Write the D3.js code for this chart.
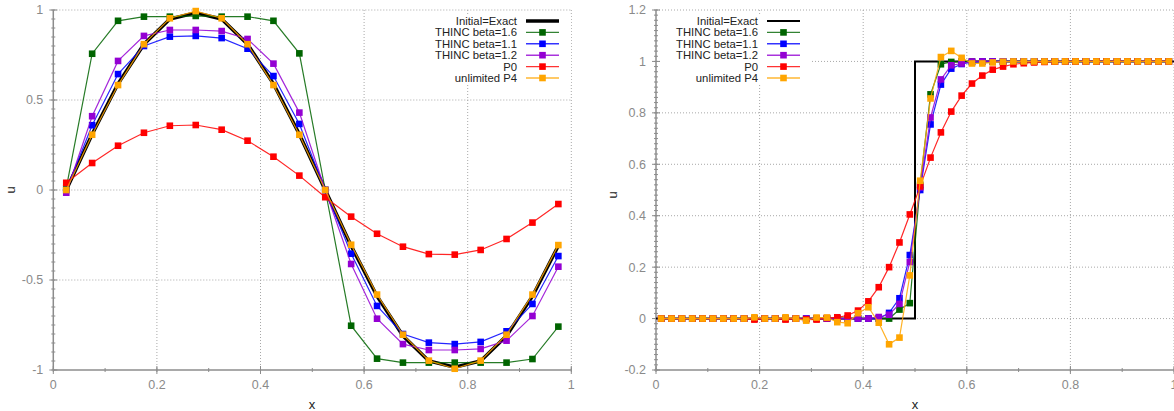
<!DOCTYPE html>
<html>
<head>
<meta charset="utf-8">
<script src="https://cdn.jsdelivr.net/npm/d3@7"></script>
<style>
  body { margin: 0; background: #fff; }
  svg { display: block; font-family: "Liberation Sans", Arial, sans-serif; }
</style>
</head>
<body>
<svg id="chart" width="1174" height="411"></svg>
<script>
// ---- data: left panel (sine wave, 20 cells) ----
var xLeft = [0.025, 0.075, 0.125, 0.175, 0.225, 0.275, 0.325, 0.375, 0.425, 0.475,
             0.525, 0.575, 0.625, 0.675, 0.725, 0.775, 0.825, 0.875, 0.925, 0.975];
var exactLeft  = [0, 0.31, 0.59, 0.81, 0.95, 0.985, 0.95, 0.81, 0.59, 0.31,
                  0, -0.31, -0.59, -0.81, -0.95, -0.985, -0.95, -0.81, -0.59, -0.31];
var thinc16Left = [0.01, 0.757, 0.94, 0.963, 0.963, 0.967, 0.963, 0.963, 0.94, 0.759,
                   0.0, -0.754, -0.937, -0.959, -0.959, -0.959, -0.959, -0.959, -0.939, -0.759];
var thinc11Left = [0.0, 0.36, 0.644, 0.8, 0.852, 0.856, 0.844, 0.785, 0.633, 0.367,
                   0.0, -0.354, -0.644, -0.8, -0.848, -0.856, -0.844, -0.785, -0.633, -0.367];
var thinc12Left = [-0.015, 0.41, 0.717, 0.856, 0.889, 0.889, 0.883, 0.839, 0.702, 0.43,
                   0.0, -0.411, -0.715, -0.856, -0.889, -0.889, -0.883, -0.837, -0.7, -0.426];
var p0Left = [0.04, 0.15, 0.246, 0.318, 0.357, 0.361, 0.335, 0.274, 0.185, 0.08,
              -0.04, -0.148, -0.243, -0.315, -0.356, -0.359, -0.333, -0.272, -0.181, -0.078];
var p4Left = [0.0, 0.307, 0.583, 0.81, 0.954, 0.994, 0.954, 0.81, 0.583, 0.307,
              0.0, -0.304, -0.581, -0.804, -0.948, -0.993, -0.948, -0.804, -0.581, -0.306];

// ---- data: right panel (step, 50 cells) ----
var xRight = [0.01, 0.03, 0.05, 0.07, 0.09, 0.11, 0.13, 0.15, 0.17, 0.19,
              0.21, 0.23, 0.25, 0.27, 0.29, 0.31, 0.33, 0.35, 0.37, 0.39,
              0.41, 0.43, 0.45, 0.47, 0.49, 0.51, 0.53, 0.55, 0.57, 0.59,
              0.61, 0.63, 0.65, 0.67, 0.69, 0.71, 0.73, 0.75, 0.77, 0.79,
              0.81, 0.83, 0.85, 0.87, 0.89, 0.91, 0.93, 0.95, 0.97, 0.99];
var exactRightX = [0, 0.5, 0.5, 1];
var exactRightU = [0, 0, 1, 1];
var thinc16Right = [0, 0, 0, 0, 0, 0, 0, 0, 0, 0,
                    0, 0, 0, 0, 0, 0, 0, 0, 0, 0,
                    0, 0, 0, 0.035, 0.06, 0.52, 0.872, 0.989, 0.998, 1,
                    1, 1, 1, 1, 1, 1, 1, 1, 1, 1,
                    1, 1, 1, 1, 1, 1, 1, 1, 1, 1];
var thinc11Right = [0, 0, 0, 0, 0, 0, 0, 0, 0, 0,
                    0, 0, 0, 0, 0, 0, 0, 0, 0, 0,
                    0, 0, 0.022, 0.079, 0.247, 0.5, 0.755, 0.91, 0.972, 0.99,
                    0.997, 1, 1, 1, 1, 1, 1, 1, 1, 1,
                    1, 1, 1, 1, 1, 1, 1, 1, 1, 1];
var thinc12Right = [0, 0, 0, 0, 0, 0, 0, 0, 0, 0,
                    0, 0, 0, 0, 0, 0, 0, 0, 0, 0,
                    0, 0.006, 0.015, 0.057, 0.22, 0.51, 0.782, 0.93, 0.985, 0.992,
                    1, 1, 1, 1, 1, 1, 1, 1, 1, 1,
                    1, 1, 1, 1, 1, 1, 1, 1, 1, 1];
var p0Right = [0, 0, 0, 0, 0, 0, 0, 0, 0, -0.004,
               0, 0, -0.004, 0, -0.003, -0.004, 0.002, 0.005, 0.012, 0.031,
               0.067, 0.122, 0.2, 0.296, 0.405, 0.514, 0.626, 0.724, 0.805, 0.867,
               0.914, 0.945, 0.968, 0.98, 0.989, 0.993, 0.996, 0.998, 0.999, 1,
               1, 1, 1, 1, 1, 1, 1, 1, 1, 1];
var p4Right = [0, 0, 0, 0, 0, 0, 0, 0, 0, 0.005,
               0, 0, 0.005, 0, -0.008, 0.004, 0.004, -0.014, -0.018, 0.021,
               0.044, -0.016, -0.1, -0.074, 0.168, 0.536, 0.856, 1.017, 1.041, 1.014,
               0.992, 0.992, 0.996, 0.999, 1, 1, 1, 1, 1, 1,
               1, 1, 1, 1, 1, 1, 1, 1, 1, 1];

var seriesNames = ["THINC beta=1.6", "THINC beta=1.1", "THINC beta=1.2", "P0", "unlimited P4"];
var seriesColors = ["#006400", "#0000ff", "#9400d3", "#ff0000", "#ffa500"];
var xTickLabels = ["0", "0.2", "0.4", "0.6", "0.8", "1"];

var svg = d3.select("#chart");

function drawPanel(cfg) {
  var x = d3.scaleLinear().domain([0, 1]).range([cfg.left, cfg.left + 518]);
  var y = d3.scaleLinear().domain(cfg.yDomain).range([370, 10]);
  var g = svg.append("g");
  var grid = "#a8a8a8";

  // dotted grid (includes top and right border)
  g.selectAll(".vgrid").data(cfg.xTicks.filter(function (d) { return d > 0; }))
    .enter().append("line")
    .attr("x1", function (d) { return x(d); }).attr("x2", function (d) { return x(d); })
    .attr("y1", y(cfg.yDomain[1])).attr("y2", y(cfg.yDomain[0]))
    .style("stroke", grid).style("stroke-width", 1).style("stroke-dasharray", "1,2");
  g.selectAll(".hgrid").data(cfg.yTicks.filter(function (d) { return d > cfg.yDomain[0]; }))
    .enter().append("line")
    .attr("x1", x(0)).attr("x2", x(1))
    .attr("y1", function (d) { return y(d); }).attr("y2", function (d) { return y(d); })
    .style("stroke", grid).style("stroke-width", 1).style("stroke-dasharray", "1,2");

  // solid left and bottom axes
  g.append("line").attr("x1", x(0)).attr("x2", x(0)).attr("y1", y(cfg.yDomain[0])).attr("y2", y(cfg.yDomain[1]))
    .style("stroke", "#8c8c8c").style("stroke-width", 1.5);
  g.append("line").attr("x1", x(0)).attr("x2", x(1)).attr("y1", y(cfg.yDomain[0])).attr("y2", y(cfg.yDomain[0]))
    .style("stroke", "#8c8c8c").style("stroke-width", 1.5);

  // ticks
  g.selectAll(".ymin").data(cfg.yMinor).enter().append("line")
    .attr("x1", x(0) - 2).attr("x2", x(0) + 2)
    .attr("y1", function (d) { return y(d); }).attr("y2", function (d) { return y(d); })
    .style("stroke", "#8c8c8c");
  g.selectAll(".ymaj").data(cfg.yTicks).enter().append("line")
    .attr("x1", x(0) - 4).attr("x2", x(0) + 4)
    .attr("y1", function (d) { return y(d); }).attr("y2", function (d) { return y(d); })
    .style("stroke", "#8c8c8c");
  g.selectAll(".xmin").data(cfg.xMinor).enter().append("line")
    .attr("x1", function (d) { return x(d); }).attr("x2", function (d) { return x(d); })
    .attr("y1", 368).attr("y2", 372)
    .style("stroke", "#8c8c8c");
  g.selectAll(".xmaj").data(cfg.xTicks).enter().append("line")
    .attr("x1", function (d) { return x(d); }).attr("x2", function (d) { return x(d); })
    .attr("y1", 366).attr("y2", 374)
    .style("stroke", "#8c8c8c");

  // tick labels
  g.selectAll(".ylab").data(cfg.yTicks).enter().append("text")
    .attr("x", x(0) - 10).attr("y", function (d) { return y(d); })
    .attr("dy", "0.35em").attr("text-anchor", "end")
    .style("font-size", "12.5px").style("fill", "#8a8a8a")
    .text(function (d, i) { return cfg.yTickLabels[i]; });
  g.selectAll(".xlab").data(cfg.xTicks).enter().append("text")
    .attr("x", function (d) { return x(d); }).attr("y", 385)
    .attr("dy", "0.35em").attr("text-anchor", "middle")
    .style("font-size", "12.5px").style("fill", "#8a8a8a")
    .text(function (d, i) { return xTickLabels[i]; });

  // axis titles
  g.append("text").attr("x", cfg.xTitleX).attr("y", 404).attr("dy", "0.35em")
    .attr("text-anchor", "middle").style("font-size", "13px").style("fill", "#222").text("x");
  g.append("text").attr("transform", "translate(" + cfg.uTitleX + "," + cfg.uTitleY + ") rotate(-90)")
    .attr("dy", "0.35em").attr("text-anchor", "middle")
    .style("font-size", "13px").style("fill", "#222").text("u");

  // opaque legend box
  g.append("rect").attr("x", cfg.keyRight - 96).attr("y", 14).attr("width", 150).attr("height", 70)
    .style("fill", "#fff");

  // exact solution
  var line = d3.line().x(function (d) { return x(d[0]); }).y(function (d) { return y(d[1]); });
  g.append("path").datum(d3.zip(cfg.exactX, cfg.exactU)).attr("d", line)
    .style("fill", "none").style("stroke", "#000").style("stroke-width", cfg.exactWidth)
    .style("stroke-linejoin", "miter");

  // numerical series
  cfg.series.forEach(function (vals, k) {
    var pts = d3.zip(cfg.xs, vals);
    g.append("path").datum(pts).attr("d", line)
      .style("fill", "none").style("stroke", seriesColors[k]).style("stroke-width", 1.2)
      .style("stroke-opacity", 0.85);
    g.selectAll(".m" + k).data(pts).enter().append("rect")
      .attr("x", function (d) { return x(d[0]) - 3.3; })
      .attr("y", function (d) { return y(d[1]) - 3.3; })
      .attr("width", 6.6).attr("height", 6.6)
      .style("fill", seriesColors[k]);
  });

  // legend entries
  var rowY = function (i) { return 21 + i * 11.4; };
  var names = ["Initial=Exact"].concat(seriesNames);
  names.forEach(function (name, i) {
    g.append("text").attr("x", cfg.keyRight).attr("y", rowY(i)).attr("dy", "0.35em")
      .attr("text-anchor", "end").style("font-size", "11.3px").style("fill", "#222").text(name);
    var sx = cfg.keyRight + 9;
    if (i === 0) {
      g.append("line").attr("x1", sx).attr("x2", sx + 33).attr("y1", rowY(i)).attr("y2", rowY(i))
        .style("stroke", "#000").style("stroke-width", cfg.exactWidth);
    } else {
      g.append("line").attr("x1", sx).attr("x2", sx + 33).attr("y1", rowY(i)).attr("y2", rowY(i))
        .style("stroke", seriesColors[i - 1]).style("stroke-width", 1.4).style("stroke-opacity", 0.8);
      g.append("rect").attr("x", sx + 16.5 - 3.3).attr("y", rowY(i) - 3.3)
        .attr("width", 6.6).attr("height", 6.6).style("fill", seriesColors[i - 1]);
    }
  });
}

drawPanel({
  left: 53.3,
  yDomain: [-1, 1],
  yTicks: [-1, -0.5, 0, 0.5, 1],
  yTickLabels: ["-1", "-0.5", "0", "0.5", "1"],
  yMinor: d3.range(-1, 1.001, 0.05),
  xTicks: [0, 0.2, 0.4, 0.6, 0.8, 1],
  xMinor: d3.range(0, 1.001, 0.1),
  xs: xLeft,
  exactX: xLeft,
  exactU: exactLeft,
  exactWidth: 3.5,
  series: [thinc16Left, thinc11Left, thinc12Left, p0Left, p4Left],
  keyRight: 517,
  xTitleX: 312,
  uTitleX: 10,
  uTitleY: 190
});

drawPanel({
  left: 656,
  yDomain: [-0.2, 1.2],
  yTicks: [-0.2, 0, 0.2, 0.4, 0.6, 0.8, 1, 1.2],
  yTickLabels: ["-0.2", "0", "0.2", "0.4", "0.6", "0.8", "1", "1.2"],
  yMinor: d3.range(-0.2, 1.201, 0.02),
  xTicks: [0, 0.2, 0.4, 0.6, 0.8, 1],
  xMinor: d3.range(0, 1.001, 0.1),
  xs: xRight,
  exactX: exactRightX,
  exactU: exactRightU,
  exactWidth: 2,
  series: [thinc16Right, thinc11Right, thinc12Right, p0Right, p4Right],
  keyRight: 758,
  xTitleX: 915,
  uTitleX: 612,
  uTitleY: 195
});
</script>
</body>
</html>
